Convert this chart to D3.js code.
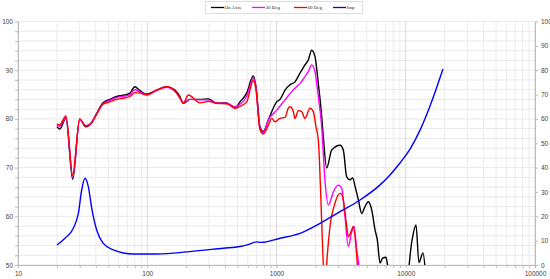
<!doctype html>
<html>
<head>
<meta charset="UTF-8" />
<script src="https://d3js.org/d3.v7.min.js"></script>
<style>
  body { margin: 0; background: #fff; }
  svg { display: block; font-family: "Liberation Sans", Arial, sans-serif; }
  .axis text { fill: #444; font-size: 6.5px; }
  .axis path, .axis line { stroke: #bbb; }
</style>
</head>
<body>
<svg id="chart" width="550" height="279"></svg>
<script>
// series: [frequency Hz, value]
const onAxis = [[20,78.4],[21,77.9],[23.5,80.1],[26.5,67.6],[30,79.9],[33.5,78.4],[37,79.2],[40.5,81.1],[45.5,83.3],[51.5,84.0],[58,84.6],[67,84.9],[73.5,85.3],[80,86.6],[88,85.8],[99,85.1],[118,85.9],[141,86.6],[164,85.9],[179,84.6],[190,83.2],[214,84.0],[256,84.0],[297,84.1],[345,83.2],[412,83.3],[478,82.3],[522,83.5],[588,85.3],[661,88.8],[694,86.6],[745,78.4],[790,77.4],[865,79.8],[1004,83.5],[1065,84.0],[1164,85.9],[1271,87.0],[1390,87.6],[1520,89.4],[1660,91.1],[1762,92.1],[1872,94.1],[1986,92.8],[2105,87.3],[2237,80.5],[2302,76.3],[2446,69.9],[2673,73.6],[3100,74.6],[3288,73.6],[3492,68.1],[3706,67.5],[3890,67.9],[4050,66.2],[4296,63.4],[4563,60.6],[4841,62.0],[5130,63.0],[5455,61.3],[5785,57.2],[6030,55.1],[6325,50.4],[6632,51.4],[7033,51.6],[7200,50.3],[8260,44],[9870,44],[11170,55],[12000,58.2],[12650,50.5],[13580,52.5],[14850,44],[20000,40]];

const deg30 = [[20,78.8],[21,78.5],[23.5,80.3],[26.5,68.2],[30,79.8],[33.5,78.6],[37,79.2],[40.5,81.0],[45.5,83.1],[51.5,83.8],[58,84.4],[67,84.7],[73.5,85.0],[80,86.0],[88,85.5],[99,85.0],[118,85.8],[141,86.5],[164,85.6],[179,84.3],[190,83.4],[214,84.0],[256,83.9],[297,83.9],[345,83.2],[412,83.2],[478,82.5],[522,83.0],[588,84.6],[661,88.3],[694,86.4],[745,78.0],[790,77.2],[865,79.8],[1004,81.8],[1164,83.9],[1311,85.6],[1432,86.6],[1520,87.3],[1660,88.7],[1762,89.7],[1872,91.1],[1986,89.7],[2105,84.6],[2237,78.4],[2371,67.4],[2518,62.3],[2751,65.0],[3007,66.4],[3195,65.8],[3388,59.9],[3594,53.8],[3818,56.8],[3981,57.9],[4174,53.1],[4325,50.3],[4600,43]];

const deg60 = [[20,79.0],[21,78.8],[23.5,80.6],[26.5,68.5],[30,80.0],[33.5,78.5],[37,79.1],[40.5,80.9],[45.5,83.0],[51.5,83.5],[58,84.0],[67,84.3],[73.5,84.6],[80,85.4],[88,85.3],[99,84.9],[118,85.9],[141,86.6],[164,85.8],[179,84.3],[190,83.2],[208,84.9],[256,83.3],[297,83.6],[345,83.2],[412,83.1],[478,82.2],[522,82.6],[588,83.5],[661,87.9],[694,86.0],[745,77.8],[790,76.9],[865,78.7],[918,80.1],[973,79.4],[1065,80.1],[1164,80.3],[1234,82.2],[1271,82.5],[1349,81.5],[1390,80.1],[1475,81.7],[1567,81.5],[1660,80.1],[1816,82.2],[1926,81.5],[2021,78.4],[2106,75.7],[2302,50.3],[2371,44],[2446,50.3],[2594,57.9],[2836,62.7],[3007,64.4],[3140,64.7],[3288,63.3],[3492,57.9],[3594,55.8],[3818,57.2],[3927,57.9],[4121,53.8],[4217,50.3],[4500,44]];

// impedance, right axis
const imp = [[20,8.2],[23.1,11.0],[26.8,15.1],[29.3,21.2],[31.1,30.8],[33,35.6],[35,32.2],[37.2,23.3],[40.6,14.4],[45.7,8.9],[54.6,6.2],[78,4.5],[118,4.5],[214,5.5],[387,6.9],[522,7.6],[620,8.6],[700,9.5],[760,9.3],[1065,11.0],[1520,13.0],[2172,17.1],[3100,21.9],[4430,26.7],[6325,32.9],[7551,37.0],[9020,41.9],[10790,47.6],[12900,55.4],[15410,65.3],[19400,80.5]];

const seriesNames = ["On Axis", "30 Deg", "60 Deg", "Imp"];
const seriesColors = ["#000000", "#ff00ff", "#ff0000", "#0000ff"];

const svg = d3.select("#chart");
const x = d3.scaleLog().domain([10, 100000]).range([18, 535]);
const y = d3.scaleLinear().domain([50, 100]).range([265, 21.5]);
const yR = d3.scaleLinear().domain([0, 100]).range([265, 21.5]);

const freqTicks = [];
for (let p = 10; p < 100000; p *= 10) for (let m = 1; m < 10; m++) freqTicks.push(p * m);
freqTicks.push(100000);

// grid
const grid = svg.append("g");
grid.selectAll(".hg").data(d3.range(50, 101, 2)).enter().append("line")
  .attr("x1", 18).attr("x2", 535)
  .attr("y1", d => y(d)).attr("y2", d => y(d))
  .attr("stroke", "#e9e9e9").attr("stroke-width", 1);
grid.selectAll(".vg").data(freqTicks).enter().append("line")
  .attr("x1", d => x(d)).attr("x2", d => x(d))
  .attr("y1", 21.5).attr("y2", 265)
  .attr("stroke", d => Math.log10(d) % 1 === 0 ? "#dadada" : "#ececec").attr("stroke-width", 1);

// axes
svg.append("g").attr("class", "axis").attr("transform", "translate(18,0)")
  .call(d3.axisLeft(y).tickValues(d3.range(50, 101, 2)).tickFormat(d => d % 10 === 0 ? d : "").tickSize(3).tickSizeOuter(0).tickPadding(2));
svg.append("g").attr("class", "axis").attr("transform", "translate(535,0)")
  .call(d3.axisRight(yR).tickValues(d3.range(0, 101, 10)).tickSize(3).tickSizeOuter(0).tickPadding(3));
svg.append("g").attr("class", "axis").attr("transform", "translate(0,265)")
  .call(d3.axisBottom(x).tickValues(freqTicks).tickFormat(d => Math.log10(d) % 1 === 0 ? d : "").tickSize(3).tickSizeOuter(0).tickPadding(3));

// curves
svg.append("clipPath").attr("id", "clip").append("rect")
  .attr("x", 18).attr("y", 21.5).attr("width", 517).attr("height", 243.5);

const line = d3.line().x(d => x(d[0])).y(d => y(d[1])).curve(d3.curveMonotoneX);
const lineR = d3.line().x(d => x(d[0])).y(d => yR(d[1])).curve(d3.curveMonotoneX);

const plot = svg.append("g").attr("clip-path", "url(#clip)");
[onAxis, deg30, deg60].forEach((s, i) => {
  plot.append("path").datum(s).attr("d", line)
    .attr("fill", "none").attr("stroke", seriesColors[i]).attr("stroke-width", 1.4);
});
plot.append("path").datum(imp).attr("d", lineR)
  .attr("fill", "none").attr("stroke", seriesColors[3]).attr("stroke-width", 1.4);

// legend
const legend = svg.append("g");
legend.append("rect").attr("x", 205.5).attr("y", 1.5).attr("width", 157).attr("height", 12)
  .attr("fill", "#fff").attr("stroke", "#ddd");
const legX = [211, 252, 294, 333];
seriesNames.forEach((n, i) => {
  legend.append("line").attr("x1", legX[i]).attr("x2", legX[i] + 13)
    .attr("y1", 7.5).attr("y2", 7.5).attr("stroke", seriesColors[i]).attr("stroke-width", 1.3);
  legend.append("text").attr("x", legX[i] + 13.5).attr("y", 9.3)
    .attr("font-family", "Liberation Serif, serif").attr("font-size", 5).attr("fill", "#222")
    .text(n);
});
</script>
</body>
</html>
